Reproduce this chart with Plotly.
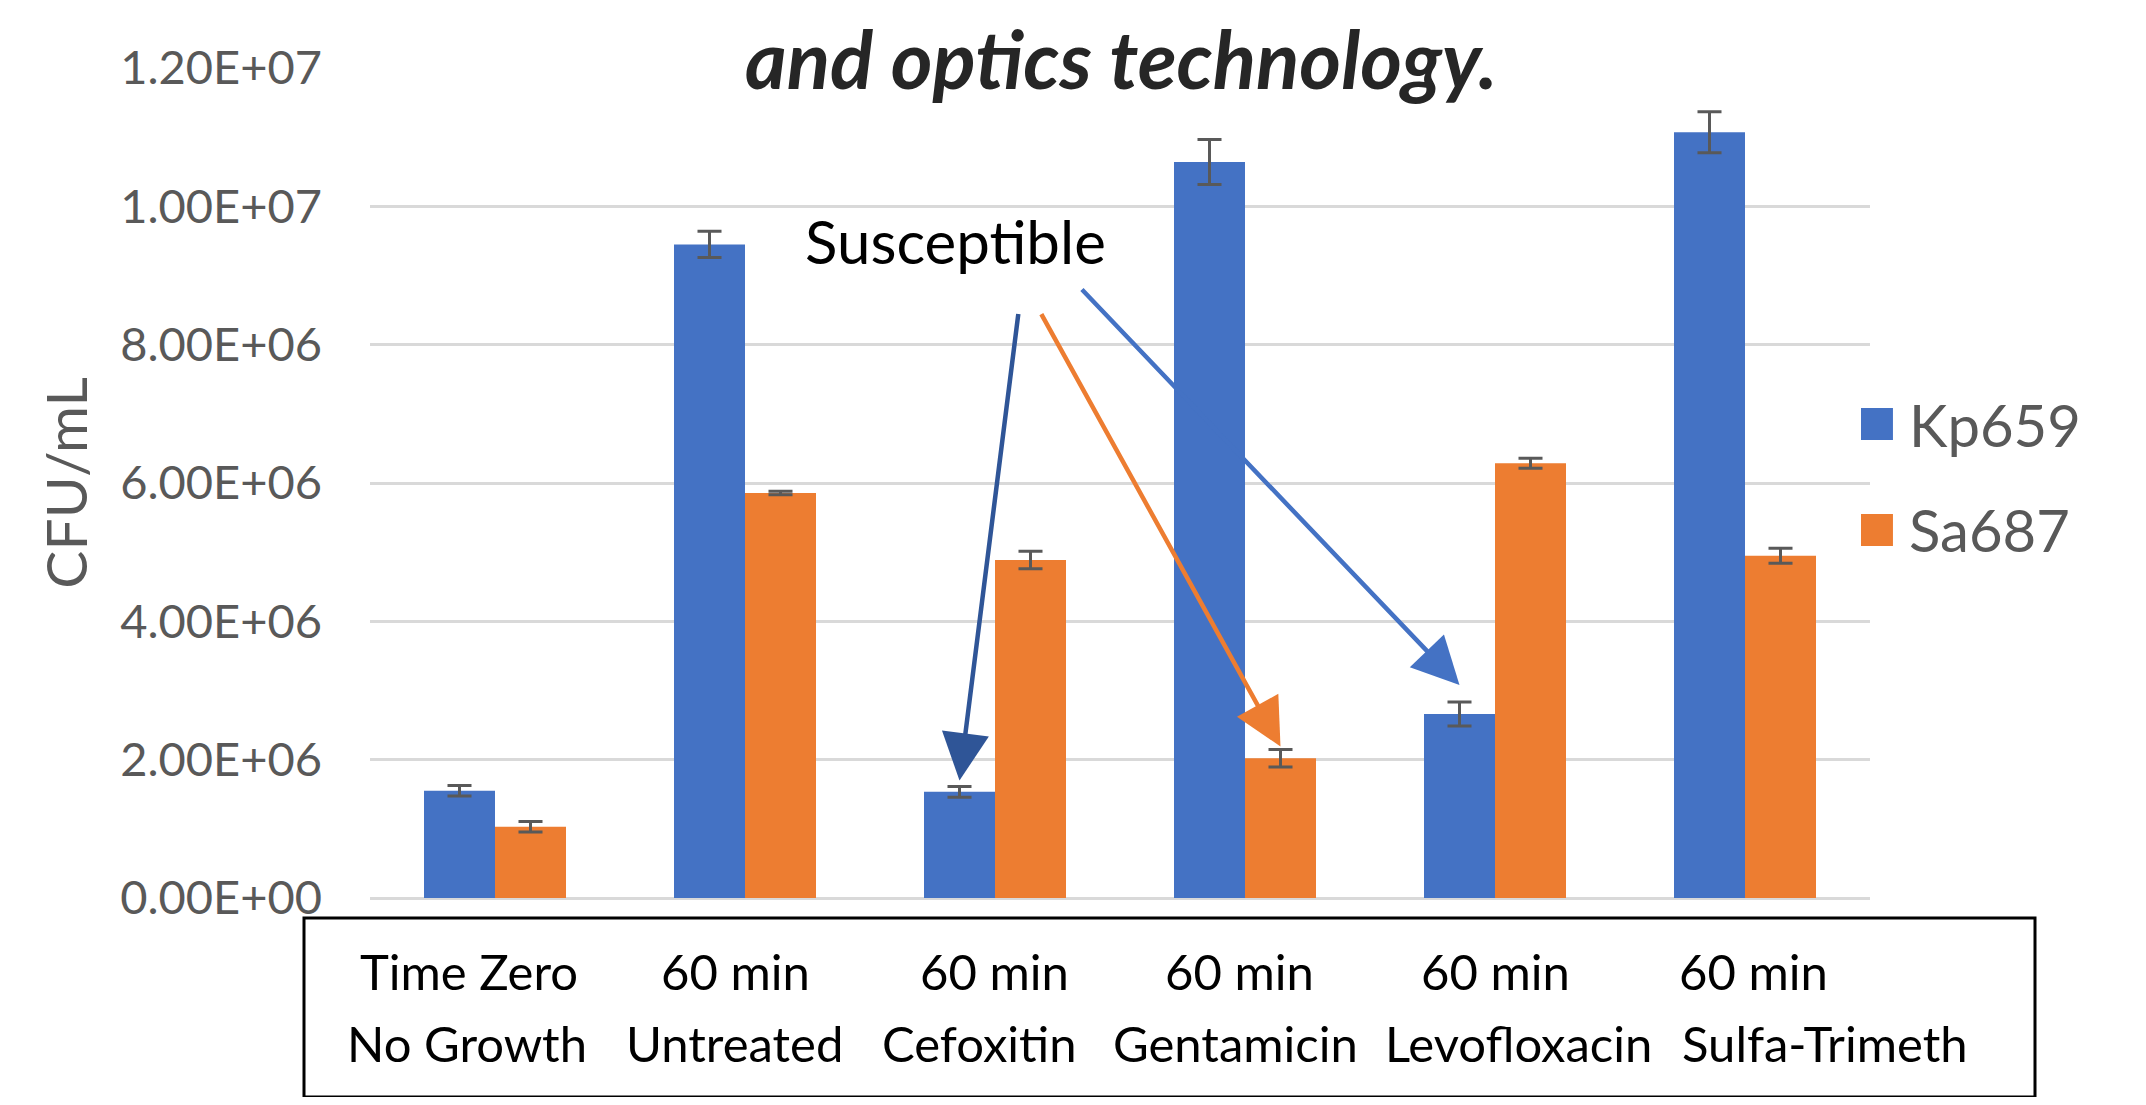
import plotly.graph_objects as go

# ---------------- data ----------------
categories = ["Time Zero No Growth", "60 min Untreated", "60 min Cefoxitin",
              "60 min Gentamicin", "60 min Levofloxacin", "60 min Sulfa-Trimeth"]
label_line1 = ["Time Zero", "60 min", "60 min", "60 min", "60 min", "60 min"]
label_line2 = ["No Growth", "Untreated", "Cefoxitin", "Gentamicin", "Levofloxacin", "Sulfa-Trimeth"]

series_names = ["Kp659", "Sa687"]
kp659 = [1.55e6, 9.45e6, 1.535e6, 10.64e6, 2.66e6, 11.07e6]
kp659_err = [0.077e6, 0.19e6, 0.078e6, 0.325e6, 0.173e6, 0.296e6]
sa687 = [1.03e6, 5.855e6, 4.888e6, 2.02e6, 6.285e6, 4.949e6]
sa687_err = [0.075e6, 0.025e6, 0.126e6, 0.126e6, 0.072e6, 0.108e6]

y_tick_vals = [0, 2e6, 4e6, 6e6, 8e6, 10e6, 12e6]
y_tick_labels = ["0.00E+00", "2.00E+06", "4.00E+06", "6.00E+06", "8.00E+06", "1.00E+07", "1.20E+07"]

# ---------------- style ----------------
colors = ["#4472C4", "#ED7D31"]
GRID = "#D9D9D9"
GRAY = "#595959"
FONT = "Lato"

# page has an 8px body margin, so the figure is 16px smaller than the window
W, H = 2130, 1089
L, T = 362, 60
PW, PH = 1500, 830
R, B = W - L - PW, H - T - PH
BARGAP = 0.432
half_bar = (1 - BARGAP) / 4  # offset of each bar centre from category centre

fig = go.Figure()
for name, vals, errs, col in zip(series_names, [kp659, sa687], [kp659_err, sa687_err], colors):
    fig.add_trace(go.Bar(
        name=name, x=categories, y=vals, marker=dict(color=col, line=dict(width=0)),
        error_y=dict(type="data", array=errs, visible=True, color=GRAY, thickness=3, width=12),
        showlegend=False,
    ))

annotations = []

# title fragment (anchored to the very top of the figure so it is not clipped)
annotations.append(dict(
    text="<b><i>and optics technology.</i></b>", xref="paper", yref="paper",
    x=0.5007, y=1 + T / PH, xanchor="center", yanchor="top", showarrow=False,
    font=dict(family=FONT, size=80, color="#262626")))

# category labels inside the box
line1_shift = [-26, -10, -1, -6, 0, 8]
line2_shift = [-28, -11, -16, -10, 23, 80]
for i, (a, b) in enumerate(zip(label_line1, label_line2)):
    annotations.append(dict(text=a, x=i, xref="x", y=-0.088, yref="paper", xshift=line1_shift[i],
                            showarrow=False, xanchor="center", yanchor="middle",
                            font=dict(family=FONT, size=49, color="#000000")))
    annotations.append(dict(text=b, x=i, xref="x", y=-0.1747, yref="paper", xshift=line2_shift[i],
                            showarrow=False, xanchor="center", yanchor="middle",
                            font=dict(family=FONT, size=49, color="#000000")))

# "Susceptible" label and arrows
annotations.append(dict(text="Susceptible", x=1.84, xref="x", y=9.5e6, yref="y",
                        showarrow=False, xanchor="center", yanchor="middle",
                        font=dict(family=FONT, size=60, color="#000000")))

arrow_specs = [
    # (category index, series index, colour, ax, ay, yshift)
    (2, 0, "#2F5597", 59, -468, 6),
    (3, 1, "#ED7D31", -240, -434, 3),
    (4, 0, "#4472C4", -379, -397, 17),
]
series_vals = [kp659, sa687]
series_errs = [kp659_err, sa687_err]
for ci, si, col, ax, ay, ys in arrow_specs:
    xpos = ci + (-half_bar if si == 0 else half_bar)
    ypos = series_vals[si][ci] + series_errs[si][ci]
    annotations.append(dict(text="", x=xpos, xref="x", y=ypos, yref="y", yshift=ys,
                            showarrow=True, arrowhead=2, arrowsize=2.1, arrowwidth=4.5,
                            arrowcolor=col, ax=ax, ay=ay, axref="pixel", ayref="pixel"))

# manual legend (large squares like the original)
shapes = []
leg_x0, leg_x1 = 0.994, 1.0153
leg_y = [0.571, 0.4434]
sq_h = 32 / PH
for name, col, yc in zip(series_names, colors, leg_y):
    shapes.append(dict(type="rect", xref="paper", yref="paper",
                       x0=leg_x0, x1=leg_x1, y0=yc - sq_h / 2, y1=yc + sq_h / 2,
                       fillcolor=col, line=dict(width=0)))
    annotations.append(dict(text=name, xref="paper", yref="paper", x=1.0247, y=yc,
                            xanchor="left", yanchor="middle", showarrow=False,
                            font=dict(family=FONT, size=58, color=GRAY)))

# box around category labels
shapes.append(dict(type="rect", xref="paper", yref="paper", x0=-0.044, x1=1.11,
                   y0=-0.2398, y1=-0.0241, line=dict(color="#000000", width=3),
                   fillcolor="rgba(0,0,0,0)"))

fig.update_layout(
    width=W, height=H,
    margin=dict(l=L, r=R, t=T, b=B),
    paper_bgcolor="white", plot_bgcolor="white",
    barmode="group", bargap=BARGAP, bargroupgap=0,
    font=dict(family=FONT, color=GRAY),
    xaxis=dict(range=[-0.5, 5.5], autorange=False, showticklabels=False, showgrid=False,
               zeroline=False, showline=False, ticks=""),
    yaxis=dict(range=[0, 1.2e7], autorange=False, tickvals=y_tick_vals, ticktext=y_tick_labels,
               tickfont=dict(family=FONT, size=47, color=GRAY), ticklabelstandoff=47,
               showgrid=True, gridcolor=GRID, gridwidth=2.5,
               zeroline=True, zerolinecolor=GRID, zerolinewidth=2.5, showline=False,
               title=dict(text="CFU/mL", font=dict(family=FONT, size=57, color=GRAY), standoff=14)),
    annotations=annotations, shapes=shapes,
)

fig.write_html("out.html")
